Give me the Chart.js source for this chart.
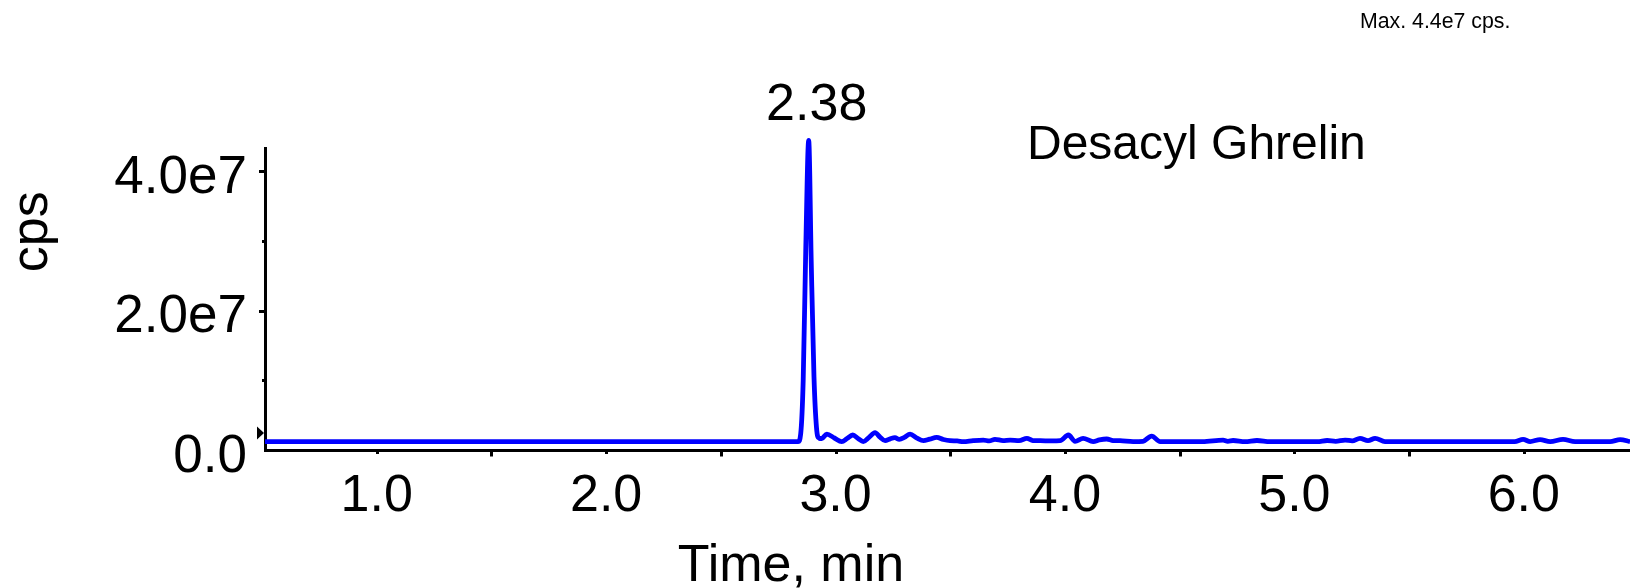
<!DOCTYPE html>
<html>
<head>
<meta charset="utf-8">
<title>Desacyl Ghrelin XIC</title>
<script src="https://cdn.jsdelivr.net/npm/chart.js@4.4.1/dist/chart.umd.min.js"></script>
<style>
  html, body { margin: 0; padding: 0; background: #ffffff; }
  canvas { display: block; }
</style>
</head>
<body>
<canvas id="xic" width="1630" height="588"></canvas>
<script>
// Extracted ion chromatogram: retention time (min) against intensity (cps)
const analyte = 'Desacyl Ghrelin';
const apexLabel = '2.38';

const times = [
  0.513, 1.000, 1.500, 2.000, 2.500, 2.837, 2.848, 2.859, 2.870, 2.883,
  2.894, 2.906, 2.917, 2.928, 2.940, 2.962, 2.995, 3.027, 3.050, 3.075,
  3.098, 3.121, 3.146, 3.172, 3.195, 3.216, 3.238, 3.259, 3.278, 3.300,
  3.325, 3.355, 3.383, 3.410, 3.441, 3.470, 3.499, 3.530, 3.557, 3.600,
  3.644, 3.670, 3.695, 3.730, 3.761, 3.800, 3.834, 3.860, 3.892, 3.940,
  3.979, 4.015, 4.044, 4.079, 4.123, 4.150, 4.182, 4.210, 4.240, 4.297,
  4.340, 4.378, 4.415, 4.500, 4.600, 4.689, 4.710, 4.733, 4.785, 4.837,
  4.894, 5.000, 5.100, 5.143, 5.180, 5.221, 5.252, 5.286, 5.321, 5.352,
  5.395, 5.500, 5.700, 5.900, 5.960, 5.997, 6.028, 6.071, 6.115, 6.171,
  6.224, 6.300, 6.376, 6.420, 6.463
];

const intensity = [
  1.20e6, 1.20e6, 1.20e6, 1.20e6, 1.20e6, 1.20e6, 2.30e6, 1.00e7, 2.85e7, 4.44e7,
  2.70e7, 1.05e7, 3.20e6, 1.70e6, 1.65e6, 2.29e6, 1.72e6, 1.20e6, 1.65e6, 2.15e6,
  1.65e6, 1.20e6, 1.80e6, 2.48e6, 1.80e6, 1.33e6, 1.60e6, 1.76e6, 1.53e6, 1.80e6,
  2.29e6, 1.70e6, 1.33e6, 1.55e6, 1.82e6, 1.50e6, 1.33e6, 1.30e6, 1.20e6, 1.35e6,
  1.43e6, 1.30e6, 1.53e6, 1.35e6, 1.43e6, 1.33e6, 1.68e6, 1.35e6, 1.33e6, 1.30e6,
  1.33e6, 2.15e6, 1.25e6, 1.68e6, 1.20e6, 1.45e6, 1.58e6, 1.35e6, 1.33e6, 1.20e6,
  1.25e6, 2.00e6, 1.20e6, 1.20e6, 1.20e6, 1.43e6, 1.25e6, 1.36e6, 1.20e6, 1.36e6,
  1.20e6, 1.20e6, 1.20e6, 1.36e6, 1.25e6, 1.43e6, 1.30e6, 1.68e6, 1.33e6, 1.68e6,
  1.20e6, 1.20e6, 1.20e6, 1.20e6, 1.20e6, 1.53e6, 1.20e6, 1.50e6, 1.20e6, 1.53e6,
  1.20e6, 1.20e6, 1.20e6, 1.50e6, 1.20e6
];

const xTickValues = [1.0, 1.5, 2.0, 2.5, 3.0, 3.5, 4.0, 4.5, 5.0, 5.5, 6.0];
const yTickValues = [0, 1e7, 2e7, 3e7, 4e7];
const xRange = [0.513, 6.463];
const yRange = [0, 4.33e7];
const baselineMarker = 2.44e6;

const FONT = "'Liberation Sans', Arial, Helvetica, sans-serif";
Chart.defaults.font.family = FONT;
Chart.defaults.color = '#000000';

const isWhole = v => Math.abs(v - Math.round(v)) < 1e-9;
const isMajorY = v => Math.abs((v / 1e7) % 2) < 1e-9;

// Tick marks, baseline marker and text annotations
const annotations = {
  id: 'annotations',
  afterDraw(chart) {
    const { ctx, scales: { x, y } } = chart;
    ctx.save();
    ctx.strokeStyle = '#000000';
    ctx.fillStyle = '#000000';
    ctx.lineWidth = 3;
    ctx.lineCap = 'butt';

    xTickValues.forEach(v => {
      const px = Math.round(x.getPixelForValue(v)) + 0.5;
      const len = isWhole(v) ? 2.5 : 5;
      ctx.beginPath();
      ctx.moveTo(px, x.top);
      ctx.lineTo(px, x.top + 1.5 + len);
      ctx.stroke();
    });

    yTickValues.forEach(v => {
      if (v === 0) return;
      const py = Math.round(y.getPixelForValue(v)) + 0.5;
      const len = isMajorY(v) ? 4.5 : 1.5;
      ctx.beginPath();
      ctx.moveTo(y.right, py);
      ctx.lineTo(y.right - 1.5 - len, py);
      ctx.stroke();
    });

    // baseline marker on the intensity axis
    const my = y.getPixelForValue(baselineMarker);
    const tipX = y.right - 1;
    ctx.beginPath();
    ctx.moveTo(tipX, my);
    ctx.lineTo(tipX - 7, my - 6.5);
    ctx.lineTo(tipX - 7, my + 6.5);
    ctx.closePath();
    ctx.fill();

    // apex retention time label
    let apex = 0;
    intensity.forEach((v, i) => { if (v > intensity[apex]) apex = i; });
    const apexX = x.getPixelForValue(times[apex]);
    const apexY = y.getPixelForValue(intensity[apex]);
    ctx.textBaseline = 'alphabetic';
    ctx.textAlign = 'center';
    ctx.font = '52px ' + FONT;
    ctx.fillText(apexLabel, apexX + 8, apexY - 20);

    // analyte name
    ctx.textAlign = 'left';
    ctx.font = '48px ' + FONT;
    ctx.fillText(analyte, 1027, 159);

    // maximum intensity note
    ctx.font = '21.3px ' + FONT;
    ctx.fillText('Max. ' + (intensity[apex] / 1e7).toFixed(1) + 'e7 cps.', 1360, 28.3);

    // axis titles
    ctx.font = '52px ' + FONT;
    ctx.textAlign = 'center';
    ctx.fillText('Time, min', 791, 581);

    ctx.translate(46.7, 231.7);
    ctx.rotate(-Math.PI / 2);
    ctx.fillText('cps', 0, 0);
    ctx.restore();
  }
};

new Chart(document.getElementById('xic'), {
  type: 'line',
  data: {
    datasets: [{
      label: analyte,
      data: times.map((t, i) => ({ x: t, y: intensity[i] })),
      borderColor: '#0000ff',
      borderWidth: 4.8,
      pointRadius: 0,
      fill: false,
      cubicInterpolationMode: 'monotone',
      clip: false
    }]
  },
  options: {
    responsive: false,
    animation: false,
    devicePixelRatio: 1,
    events: [],
    layout: { padding: { top: 148, left: 0, right: 0, bottom: 0 } },
    plugins: { legend: { display: false }, tooltip: { enabled: false }, title: { display: false } },
    scales: {
      x: {
        type: 'linear',
        min: xRange[0],
        max: xRange[1],
        afterBuildTicks: s => { s.ticks = xTickValues.map(v => ({ value: v })); },
        afterFit: s => { s.height = 138; },
        grid: { display: false, drawTicks: false, tickLength: 0 },
        border: { display: true, color: '#000000', width: 3 },
        ticks: {
          autoSkip: false,
          maxRotation: 0,
          minRotation: 0,
          padding: 15,
          color: '#000000',
          font: { size: 52 },
          callback: v => isWhole(v) ? v.toFixed(1) : ''
        }
      },
      y: {
        type: 'linear',
        min: yRange[0],
        max: yRange[1],
        afterBuildTicks: s => { s.ticks = yTickValues.map(v => ({ value: v })); },
        afterFit: s => { s.width = 265; },
        grid: { display: false, drawTicks: false, tickLength: 0 },
        border: { display: true, color: '#000000', width: 3 },
        ticks: {
          autoSkip: false,
          padding: 18,
          labelOffset: 7,
          color: '#000000',
          font: { size: 53 },
          callback: v => v === 0 ? '0.0' : (isMajorY(v) ? (v / 1e7).toFixed(1) + 'e7' : '')
        }
      }
    }
  },
  plugins: [annotations]
});
</script>
</body>
</html>
